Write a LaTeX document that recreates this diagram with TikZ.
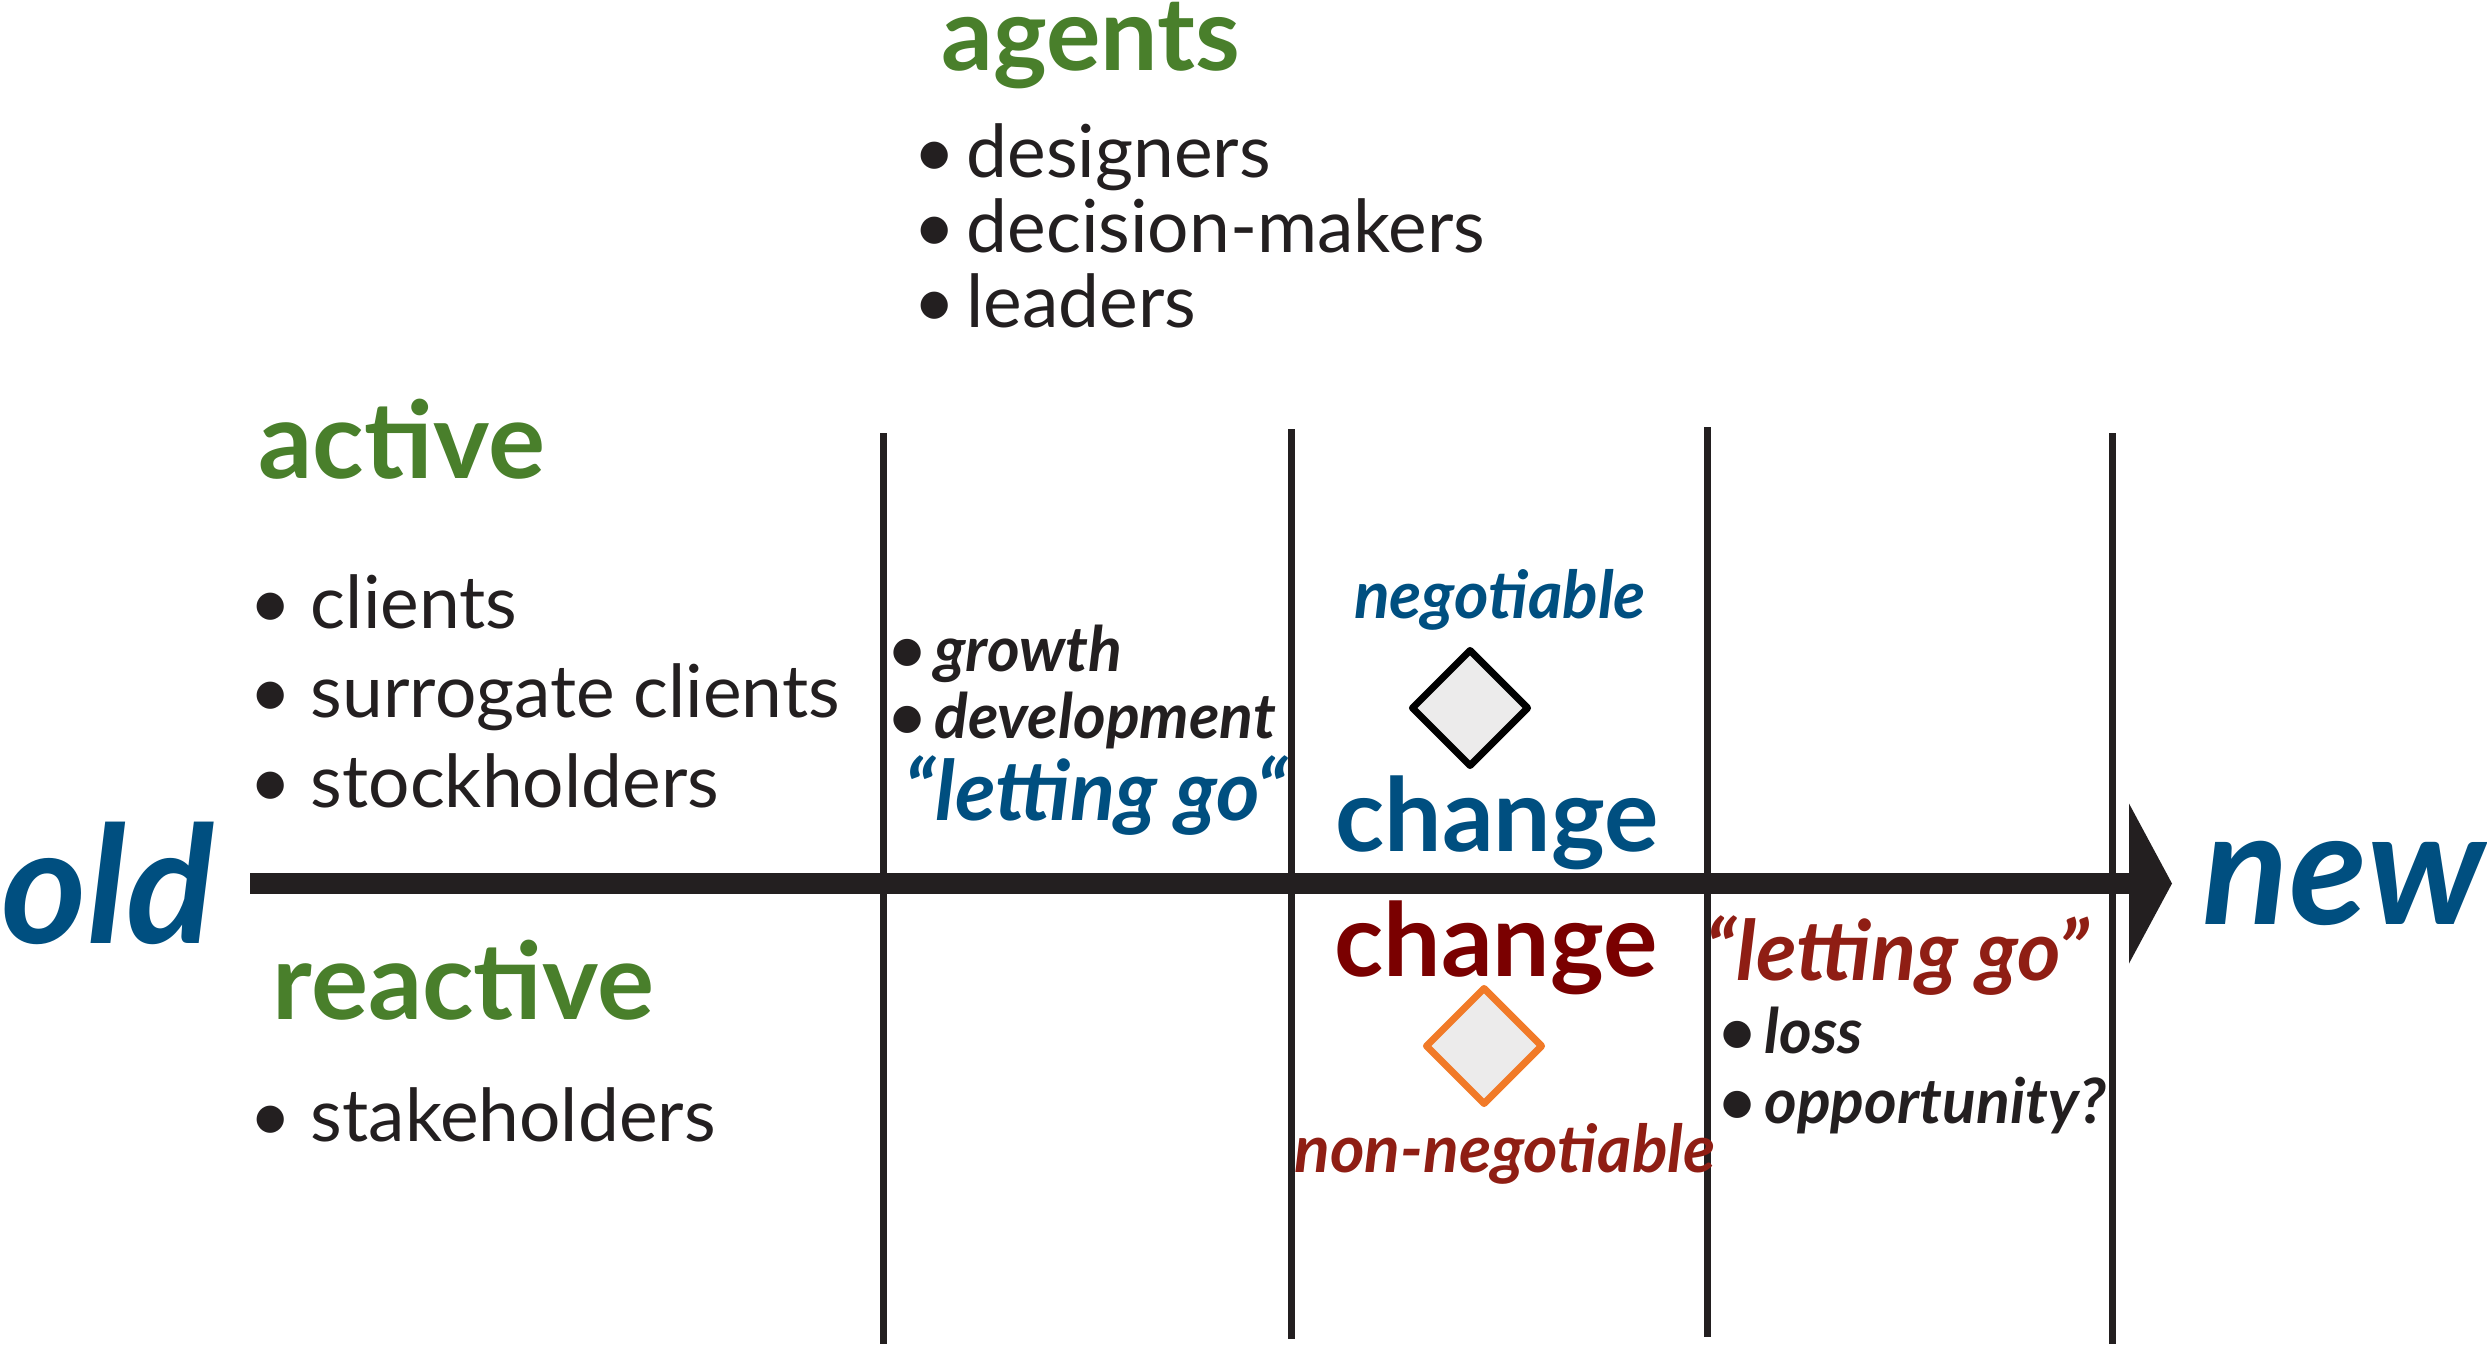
\documentclass[tikz,border=0pt]{standalone}
\usepackage{fontspec}
\setmainfont{Lato}
\usetikzlibrary{arrows.meta,shapes.geometric}
\definecolor{leafgreen}{RGB}{73,127,43}
\definecolor{deepblue}{RGB}{0,79,128}
\definecolor{maroon}{RGB}{122,0,0}
\definecolor{rust}{RGB}{143,30,20}
\definecolor{ink}{RGB}{35,31,32}
\definecolor{paleGray}{RGB}{236,235,235}
\definecolor{flame}{RGB}{241,122,40}

\tikzset{
  word/.style={inner sep=0pt, text=ink},
  endword/.style={word, font=\fontsize{46.5}{46.5}\selectfont\bfseries\itshape, text=deepblue},
  heading/.style={word, anchor=base west, font=\fontsize{30.4}{30.4}\selectfont\bfseries, text=leafgreen},
  item/.style={word, anchor=base west, font=\fontsize{20.8}{20.8}\selectfont},
  note/.style={word, anchor=base west, font=\fontsize{17.8}{17.8}\selectfont\bfseries\itshape},
  letgo/.style={word, anchor=base west, font=\fontsize{23.7}{23.7}\selectfont\bfseries\itshape},
  changeword/.style={word, anchor=base, font=\fontsize{29}{29}\selectfont\bfseries},
  dealword/.style={word, anchor=base, font=\fontsize{18.8}{18.8}\selectfont\bfseries\itshape},
  choice/.style={diamond, minimum width=1.18cm, minimum height=1.18cm, inner sep=0pt, line width=0.07cm, line join=round, fill=paleGray},
  divider/.style={ink, line width=0.07cm},
  axisline/.style={ink, line width=0.205cm, -{Triangle[length=0.43cm, width=1.60cm, line width=0pt]}}
}

\begin{document}
\begin{tikzpicture}
\useasboundingbox (0,0) rectangle (24.87,13.61);

% stage dividers
\draw[divider] (8.83,9.28) -- (8.83,0.17);
\draw[divider] (12.91,9.32) -- (12.91,0.22);
\draw[divider] (17.07,9.34) -- (17.07,0.24);
\draw[divider] (21.12,9.28) -- (21.12,0.17);

% old -> new
\node[endword, anchor=east] (old) at (2.15,4.775) {old};
\node[endword, anchor=west, font=\fontsize{45.5}{45.5}\selectfont\bfseries\itshape] (new) at (22.02,4.775) {new};
\draw[axisline, shorten <=0.35cm, shorten >=0.30cm] (old) -- (new);

% agents
\node[heading, font=\fontsize{29}{29}\selectfont\bfseries] (agents) at (9.41,12.91) {agents};
\node[item] (designers) at (9.13,11.84) {•\hspace{3pt}designers};
\node[item] (deciders) at (9.13,11.09) {•\hspace{3pt}decision-makers};
\node[item] (leaders) at (9.13,10.34) {•\hspace{3pt}leaders};

% active side
\node[heading] (active) at (2.58,8.83) {active};
\node[item] (clients) at (2.49,7.33) {• clients};
\node[item] (surrogates) at (2.49,6.44) {• surrogate clients};
\node[item] (stockholders) at (2.49,5.54) {• stockholders};

% reactive side
\node[heading] (reactive) at (2.72,3.42) {reactive};
\node[item] (stakeholders) at (2.49,2.20) {• stakeholders};

% first stage
\node[note] (growth) at (8.89,6.90) {•\hspace{2.4pt}growth};
\node[note] (development) at (8.89,6.23) {•\hspace{2.4pt}development};
\node[letgo, text=deepblue] (letgoA) at (9.04,5.41) {“letting go“};

% change
\node[dealword, text=deepblue] (negotiable) at (15.00,7.43) {negotiable};
\node[choice, draw=black] (negbox) at (14.70,6.53) {};
\node[changeword, text=deepblue] (changeA) at (14.97,5.10) {change};
\node[changeword, text=maroon] (changeB) at (14.96,3.85) {change};
\node[choice, draw=flame] (nonnegbox) at (14.84,3.15) {};
\node[dealword, text=rust] (nonnegotiable) at (15.05,1.89) {non-negotiable};

% last stage
\node[letgo, text=rust] (letgoB) at (17.05,3.81) {“letting go”};
\node[note] (loss) at (17.19,3.08) {•\hspace{2.4pt}loss};
\node[note] (opportunity) at (17.19,2.38) {•\hspace{2.4pt}opportunity?};
\end{tikzpicture}
\end{document}
